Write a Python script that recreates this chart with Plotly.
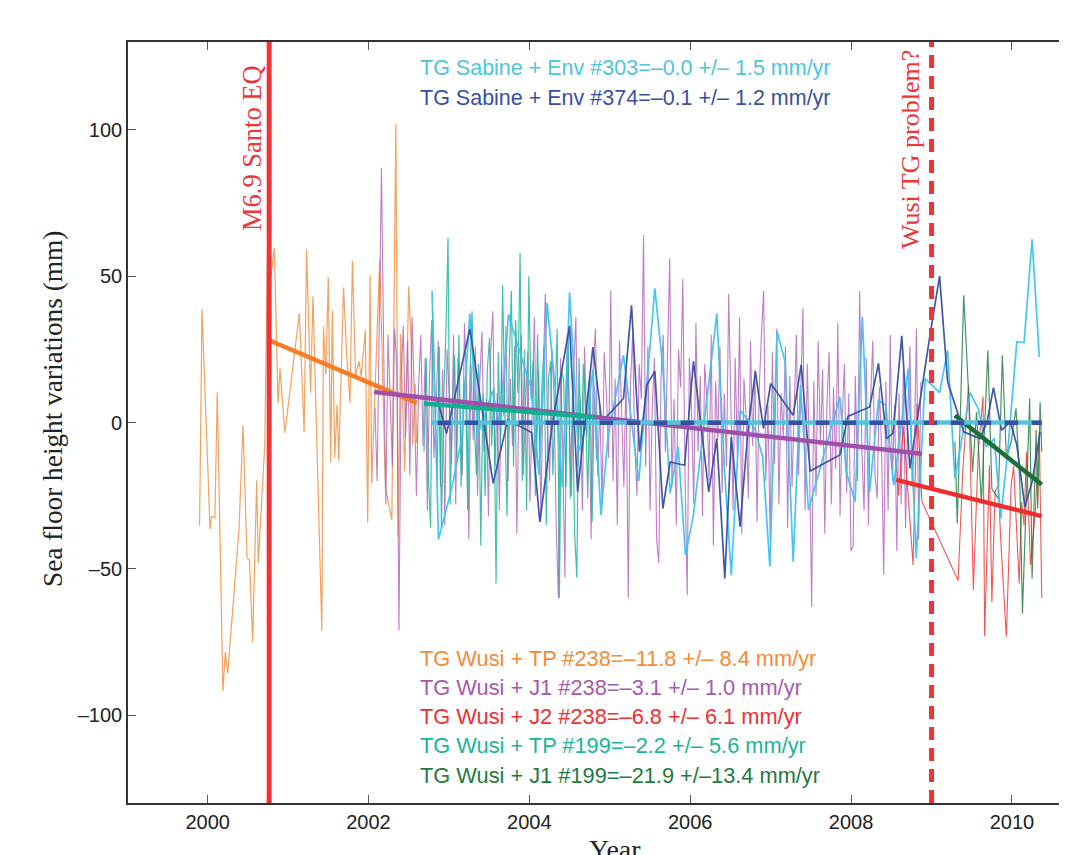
import numpy as np
import plotly.graph_objects as go

# ---------------- data ----------------
# TG Wusi + TP #238 (orange)
tp238_x = [1999.90, 1999.93, 2000.03, 2000.05, 2000.09, 2000.12, 2000.19, 2000.22, 2000.25, 2000.39,
           2000.44, 2000.49, 2000.52, 2000.56, 2000.61, 2000.63, 2000.71, 2000.763, 2000.78, 2000.83,
           2000.875, 2000.90, 2000.96, 2001.14, 2001.20, 2001.23, 2001.28, 2001.31, 2001.42, 2001.44,
           2001.47, 2001.50, 2001.53, 2001.55, 2001.58, 2001.61, 2001.63, 2001.69, 2001.73, 2001.77,
           2001.80, 2001.84, 2001.88, 2001.91, 2001.96, 2001.99, 2002.02, 2002.04, 2002.14, 2002.21,
           2002.29, 2002.34, 2002.37, 2002.40, 2002.45, 2002.50, 2002.53, 2002.55, 2002.58, 2002.60]
tp238_y = [-35.2, 38.7, -36.5, -32, -32.6, 10.3, -91.8, -78.4, -85.6, -36.5,
           -1, -46.3, -47, -75, -19.8, -48, -7.8, 92.9, 48.5, 59.6,
           6.6, 18.4, -3.6, 37.3, -3.2, 59.2, 10.2, 43, -71.2, 32.8,
           16.4, 49.5, -13.6, 38.3, -12, 6, -13, 46.1, 22.3, 6.6,
           55.3, 15.8, 21, 15.8, 31.5, -34.2, 50.2, -20.8, 56, -22.2,
           -33.3, 102, -39.1, 30.2, -16.7, 46.5, 27.5, -7.8, 13.2, -7.1]

# TG Wusi + J1 #238 (purple), one value per 9.9156-day repeat cycle
j1_238_start = 2002.08
cycle_yr = 9.9156 / 365.25
j1_238_y = [5, -20, 35, 87, 25, -28, 30, 8, -15, 32,
            20, -71, 15, 33, -5, 28, -18, 36, 10, -25,
            12, 30, -8, 22, -30, 16, 35, -12, 5, 28,
            -22, 18, -35, 25, 10, -14, 30, -28, 22, 4,
            -18, 34, 12, -40, 20, -6, 26, -25, 14, 31,
            -10, 8, -32, 24, 38, -15, 10, -30, 20, 2,
            33, -20, 15, -8, 26, -38, 12, 30, -18, 6,
            24, -27, 9, 36, -12, 18, -33, 14, 44, 0,
            -20, 25, 10, -35, -60, 22, -10, -53, 30, 5,
            -25, 18, 36, -15, 8, -30, 26, -5, 14, -40,
            20, 32, -18, 6, -28, 24, 10, -12, 45, -20,
            15, -35, 28, 4, -22, 18, -60, 12, 30, -8,
            -25, 20, 8, 64, -15, 26, -30, 5, 22, -40,
            -48, 15, 30, -10, 20, 56, -22, 8, -35, 25,
            12, 49, -18, -59, 22, 4, -28, 34, -10, 16,
            -32, 20, 8, -20, 30, -42, 14, -6, 26, -24,
            10, -15, 44, 5, -30, 22, -12, 36, -38, 15,
            2, -26, 28, -8, 18, -34, 12, 30, 45, -20,
            6, -40, 24, -14, 32, -28, 10, -5, 26, -36,
            16, -22, 4, 30, -18, 8, 39, -30, 20, -12,
            -63, 14, -25, 28, -8, 18, -38, 6, 24, -28,
            12, -16, 34, -32, 2, 20, -24, 10, -44, -42,
            16, -20, 45, -10, -30, 22, -35, 8, 28, -18,
            -26, 12, -8, -52, 14, -30, 30, -20, 6, -44,
            10, -28, 18, -36, 2, 26, -22, -8, 32, -40, 14]

# TG Wusi + TP #199 (teal), one value per repeat cycle
tp199_start = 2002.69
tp199_y = [-10, 22, -18, -36, 38, 12, -20, 26, -36, 8,
           30, 63, -28, 5, 23, -12, 30, -22, 7, 16,
           -30, 15, 38, 0, -18, 20, -42, 10, -25, 18,
           29, -8, 12, -55, 24, -10, 47, 5, -32, 20,
           45, -15, 35, 10, 58, -20, 25, -30, 50, 8,
           21, -25, 30, -12, 12, 26, -35, 15, 21, -18,
           8, 32, -60, 18, 14, -22, 30, -26, 10, -38,
           -53, 22, -10, 20, 5, -26, 16, -34, 12, -13]

# TG Wusi + J2 #238 (red)
j2_238_x = [2008.56, 2008.59, 2008.65, 2008.77, 2008.82, 2008.88, 2009.33, 2009.39, 2009.46, 2009.52,
            2009.58, 2009.64, 2009.66, 2009.72, 2009.75, 2009.79, 2009.83, 2009.86, 2009.93, 2009.99,
            2010.02, 2010.06, 2010.09, 2010.12, 2010.15, 2010.18, 2010.23, 2010.29, 2010.34, 2010.37]
j2_238_y = [-14, -24.8, -1.5, -48.7, 6.5, -27, -54, -15.7, 12.8, -57.3,
            -10, 8.9, -73, -14.6, -61.3, -23.7, -21.4, -40, -73.2, -21.4,
            -15, -40.8, -55, -27.1, -35, -10, -48.7, -30.5, -3.2, -60]

# TG Wusi + J1 #199 (dark green)
j1_199_x = [2009.29, 2009.32, 2009.40, 2009.46, 2009.51, 2009.56, 2009.62, 2009.70, 2009.75, 2009.83,
            2009.88, 2009.93, 2009.99, 2010.05, 2010.10, 2010.13, 2010.17, 2010.22, 2010.25, 2010.30,
            2010.32, 2010.35, 2010.37]
j1_199_y = [-6.6, -34.5, 43.5, 10.2, -16.9, 3.6, -27.7, 24.7, -22.6, -26,
            23, -12.3, -6.6, 4.8, -22.6, -65.3, -34, 8.2, -53.3, -2.6,
            -29.4, 6.9, -10]

# TG Sabine + Env #303 (light blue)
env303_x = [2002.79, 2002.87, 2003.03, 2003.16, 2003.26, 2003.36, 2003.54, 2003.64, 2003.74, 2003.84,
            2003.92, 2004.02, 2004.12, 2004.22, 2004.32, 2004.41, 2004.50, 2004.61, 2004.70, 2004.79,
            2004.89, 2004.98, 2005.17, 2005.36, 2005.46, 2005.56, 2005.66, 2005.75, 2005.85, 2005.94,
            2006.04, 2006.33, 2006.43, 2006.51, 2006.62, 2006.80, 2006.90, 2006.99, 2007.08, 2007.18,
            2007.28, 2007.37, 2007.47, 2007.86, 2007.94, 2008.05, 2008.14, 2008.23, 2008.34, 2008.43,
            2008.53, 2008.71, 2008.81, 2008.92, 2009.10, 2009.20, 2009.29, 2009.48, 2009.58, 2009.68,
            2009.78, 2009.86, 2009.95, 2010.06, 2010.15, 2010.25, 2010.34]
env303_y = [44.9, -40, -23, -5.4, 37.2, -4.3, 10.7, -1.5, 36.9, 27.5,
            20.7, 12, -17.9, 41, 12, -22, 44.4, -10, -1.5, 17.9,
            -31.6, -4.3, 23, -20, 12.8, 45.8, 18.5, -24.2, -8.3, -45.3,
            -31.6, 37.2, -18, -52.2, 4.2, -2, -11.7, -49.3, 31, 20.7,
            -47.6, 12.8, -29.9, 8.8, -16.9, -27.1, 36.1, -23.7, 7.6, 5.9,
            -21.4, 18.4, -46.4, 15, 10.2, 24.7, -19.1, 10.2, 4.8, -8.3,
            -5.5, -32.8, -8.9, 27.6, 27.3, 62.6, 22.4]

# TG Sabine + Env #374 (dark blue)
env374_x = [2002.86, 2002.97, 2003.26, 2003.55, 2003.73, 2004.03, 2004.13, 2004.29, 2004.50, 2004.60,
            2004.79, 2004.90, 2005.17, 2005.27, 2005.37, 2005.46, 2005.56, 2005.66, 2005.75, 2005.93,
            2006.04, 2006.23, 2006.33, 2006.43, 2006.51, 2006.62, 2006.72, 2006.81, 2006.91, 2007.00,
            2007.28, 2007.38, 2007.49, 2007.86, 2007.96, 2008.23, 2008.34, 2008.44, 2008.52, 2008.63,
            2008.73, 2008.90, 2008.98, 2009.10, 2009.20, 2009.40, 2009.60, 2009.69, 2009.77, 2009.87,
            2009.98, 2010.06, 2010.16, 2010.25, 2010.35]
env374_y = [7.6, -3.8, 32, -20.8, 0.8, -3.4, -34, 0.2, 33, -23.6,
            25.8, 0.2, 8.2, 40, -10, 12.8, 17.5, -29.4, -13.5, -14.6,
            20.9, -23.7, -5.5, -53.3, -5, -35.6, -2, 17.5, -2, 13.3,
            2.5, 19.8, -16.6, -11.1, 2.1, 5.3, 20.2, -5.5, -3.7, 29.6,
            -15.7, 16.2, 29.8, 50, 13.9, -3.2, -5.5, 0.2, 11.9, -2.6,
            0.2, -7.7, -28.8, -20.3, -3.2]

# fitted trend segments [x0, x1], [y0, y1]
trend_tp238 = ([2000.77, 2002.60], [28.0, 6.7])
trend_j1_238 = ([2002.07, 2008.88], [10.4, -10.7])
trend_j2_238 = ([2008.56, 2010.37], [-19.6, -32.0])
trend_tp199 = ([2002.69, 2004.81], [6.5, 1.8])
trend_j1_199 = ([2009.29, 2010.37], [2.4, -21.2])
trend_env303 = ([2002.79, 2010.37], [0.0, 0.0])
trend_env374 = ([2002.86, 2010.37], [-0.1, -0.1])

eq_year = 2000.765
tg_problem_year = 2009.0

x_ticks = [2000, 2002, 2004, 2006, 2008, 2010]
y_ticks = [-100, -50, 0, 50, 100]
y_tick_text = ["\u2013100", "\u201350", "0", "50", "100"]

legend_top = [("TG Sabine + Env #303=\u20130.0 +/\u2013 1.5 mm/yr", "#4DC5DD"),
              ("TG Sabine + Env #374=\u20130.1 +/\u2013 1.2 mm/yr", "#3A4FA3")]
legend_bottom = [("TG Wusi + TP #238=\u201311.8 +/\u2013 8.4 mm/yr", "#F58A35"),
                 ("TG Wusi + J1 #238=\u20133.1 +/\u2013 1.0 mm/yr", "#A758B2"),
                 ("TG Wusi + J2 #238=\u20136.8 +/\u2013 6.1 mm/yr", "#EE3030"),
                 ("TG Wusi + TP #199=\u20132.2 +/\u2013 5.6 mm/yr", "#1AB597"),
                 ("TG Wusi + J1 #199=\u201321.9 +/\u201313.4 mm/yr", "#1E7A40")]

# ---------------- figure ----------------
C_OR = "#F58A35"
C_PU = "#A855B5"
C_RD = "#EE2D2D"
C_TE = "#14B294"
C_DG = "#1A7A3A"
C_LB = "#3EC3F0"
C_LB_T = "#55C4DA"
C_DB = "#3A4FA3"

j1_238_x = j1_238_start + cycle_yr * np.arange(len(j1_238_y))
tp199_x = tp199_start + cycle_yr * np.arange(len(tp199_y))

fig = go.Figure()

def thin(x, y, color, width=1.2, opacity=0.8):
    fig.add_trace(go.Scatter(x=list(x), y=y, mode="lines",
                             line=dict(color=color, width=width),
                             opacity=opacity, hoverinfo="skip", showlegend=False))

def thick(seg, color, width=4.5, dash="solid"):
    fig.add_trace(go.Scatter(x=seg[0], y=seg[1], mode="lines",
                             line=dict(color=color, width=width, dash=dash),
                             hoverinfo="skip", showlegend=False))

thin(tp238_x, tp238_y, C_OR)
thin(j1_238_x, j1_238_y, C_PU, 1.1, 0.75)
thin(tp199_x, tp199_y, C_TE)
thin(j2_238_x, j2_238_y, C_RD, 1.1)
thin(j1_199_x, j1_199_y, C_DG, 1.2)
thin(env303_x, env303_y, C_LB, 1.7, 0.95)
thin(env374_x, env374_y, C_DB, 1.7, 0.95)

thick(trend_tp238, "#F47D25")
thick(trend_j1_238, "#A050AA")
thick(trend_tp199, "#12B08F")
thick(trend_j2_238, "#EE2D2D")
thick(trend_j1_199, "#1A7036")
thick(trend_env303, C_LB_T, 4.5)
thick(trend_env374, C_DB, 4.5, "dash")

# vertical markers
fig.add_shape(type="line", xref="x", yref="paper", x0=eq_year, x1=eq_year, y0=0, y1=1,
              line=dict(color="#EE3535", width=5), layer="above")
fig.add_shape(type="line", xref="x", yref="paper", x0=tg_problem_year, x1=tg_problem_year, y0=0, y1=1,
              line=dict(color="#EE3535", width=5, dash="13px,8px"), layer="above")

serif = "Liberation Serif, Times New Roman, serif"
sans = "Liberation Sans, Arial, Helvetica, sans-serif"

# page offset of the figure (default body margin of the html page)
OFF = 8
# plot area geometry in page pixels
L, R, T, B = 128, 1067, 42, 803
W = R - L
H = B - T
FIG_W = 1067 - OFF
FIG_H = 855 - OFF

def px2paper(px, py):
    return (px - L) / W, (B - py) / H

ann = []
xx, yy = px2paper(252, 148)
ann.append(dict(text="M6.9 Santo EQ", x=xx, y=yy, xref="paper", yref="paper", textangle=-90,
                showarrow=False, font=dict(family=serif, size=26.5, color="#EE3535"),
                xanchor="center", yanchor="middle"))
xx, yy = px2paper(911, 150)
ann.append(dict(text="Wusi TG problem?", x=xx, y=yy, xref="paper", yref="paper", textangle=-90,
                showarrow=False, font=dict(family=serif, size=26, color="#EE3535"),
                xanchor="center", yanchor="middle"))
for i, (txt, col) in enumerate(legend_top):
    xx, yy = px2paper(418, 68 + 30 * i)
    ann.append(dict(text=txt, x=xx, y=yy, xref="paper", yref="paper", showarrow=False,
                    xanchor="left", yanchor="middle", font=dict(family=sans, size=21.5, color=col)))
for i, (txt, col) in enumerate(legend_bottom):
    xx, yy = px2paper(418, 658 + 29.3 * i)
    ann.append(dict(text=txt, x=xx, y=yy, xref="paper", yref="paper", showarrow=False,
                    xanchor="left", yanchor="middle", font=dict(family=sans, size=21.8, color=col)))
# axis titles
xx, yy = px2paper(53, 409)
ann.append(dict(text="Sea floor height variations (mm)", x=xx, y=yy, xref="paper", yref="paper",
                textangle=-90, showarrow=False, xanchor="center", yanchor="middle",
                font=dict(family=serif, size=27.3, color="#222222")))
xx, yy = px2paper(615, 832)
ann.append(dict(text="Year", x=xx, y=yy, xref="paper", yref="paper", showarrow=False,
                xanchor="center", yanchor="top", font=dict(family=serif, size=28, color="#222222")))

fig.update_layout(
    width=FIG_W, height=FIG_H,
    margin=dict(l=L - OFF, r=FIG_W - (R - OFF), t=T - OFF, b=FIG_H - (B - OFF), pad=0),
    paper_bgcolor="white", plot_bgcolor="white",
    showlegend=False,
    annotations=ann,
)
fig.update_xaxes(range=[1999.01, 2010.684], tickvals=x_ticks, ticks="inside", ticklen=8,
                 tickwidth=1.3, tickcolor="#555", showline=True, linecolor="#333", linewidth=1.6,
                 mirror="ticks", showgrid=False, zeroline=False,
                 tickfont=dict(family=sans, size=20, color="#222"))
fig.update_yaxes(range=[-130, 130], tickvals=y_ticks, ticktext=y_tick_text, ticks="inside",
                 ticklen=8, tickwidth=1.3, tickcolor="#555", showline=True, linecolor="#333",
                 linewidth=1.6, mirror=False, showgrid=False, zeroline=False,
                 tickfont=dict(family=sans, size=20, color="#222"))

fig.write_html("out.html")
